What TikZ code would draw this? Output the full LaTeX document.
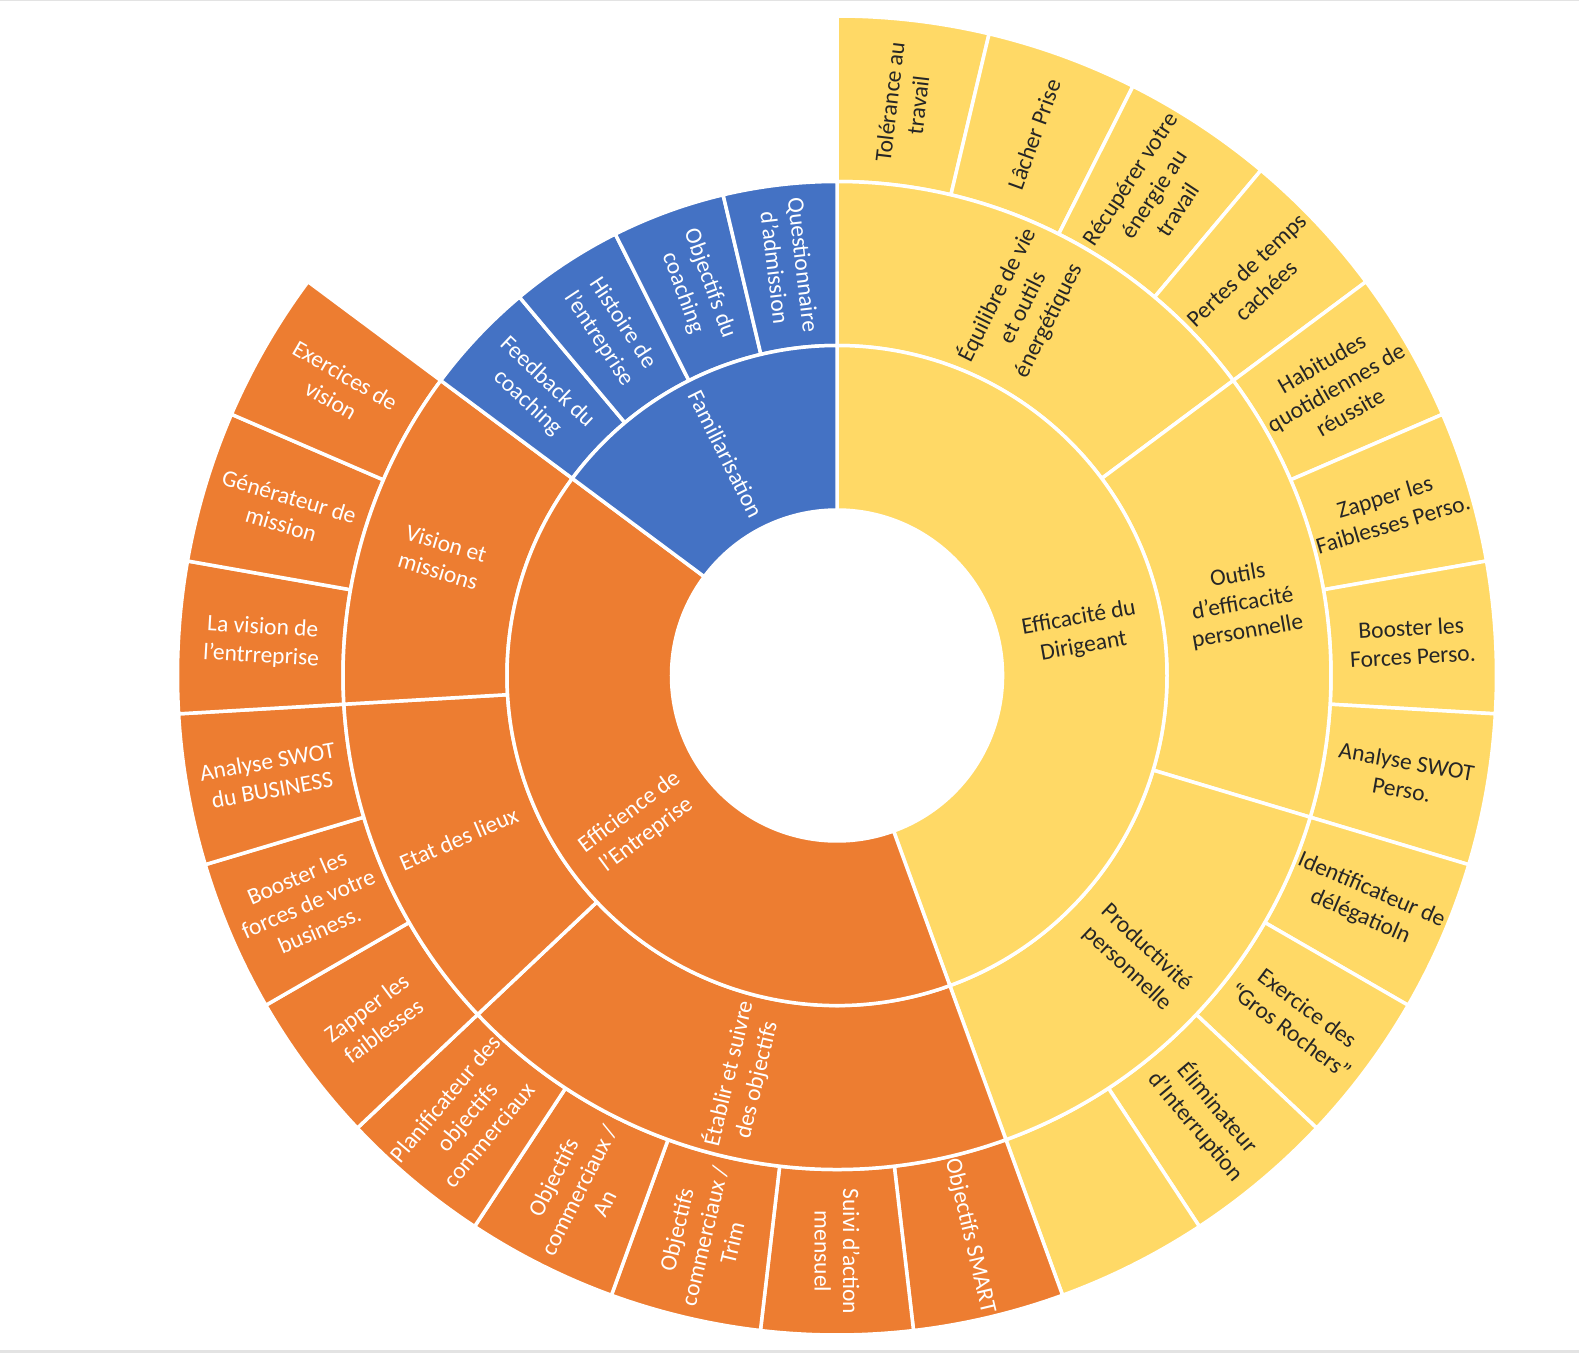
\documentclass[tikz,border=0pt]{standalone}
\usepackage{fontspec}
\setmainfont{Carlito}
\definecolor{sbY}{HTML}{FFD966}
\definecolor{sbO}{HTML}{ED7D31}
\definecolor{sbB}{HTML}{4472C4}
\definecolor{sbT}{HTML}{262626}
\newcommand\sunseg[5]{%
  \fill[#1, draw=white, line width=3.5pt, line join=round]
    (#4:#2) -- (#4:#3) arc[start angle=#4, end angle=#5, radius=#3]
    -- (#5:#2) arc[start angle=#5, end angle=#4, radius=#2] -- cycle;}
\tikzset{
  lbl/.style={align=center, font=\fontsize{23.5}{28.5}\selectfont, inner sep=0pt},
  lY/.style={lbl, text=sbT},
  lW/.style={lbl, text=white}
}
\begin{document}
\begin{tikzpicture}[x=1pt,y=1pt]
\useasboundingbox (-837,-677.5) rectangle (742,675.5);
\fill[white] (-837,-677.5) rectangle (742,675.5);
\fill[gray!22] (-837,674.5) rectangle (742,675.5);
\fill[gray!22] (-837,-677.5) rectangle (742,-674.5);
% ring 3 leaves
\foreach \k in {0,...,11}{
  \pgfmathsetmacro\aa{90-\k*40/3}\pgfmathsetmacro\ab{90-(\k+1)*40/3}
  \sunseg{sbY}{494}{659.5}{\aa}{\ab}}
\foreach \k in {12,...,22}{
  \pgfmathsetmacro\aa{90-\k*40/3}\pgfmathsetmacro\ab{90-(\k+1)*40/3}
  \sunseg{sbO}{494}{659.5}{\aa}{\ab}}
% ring 2
\sunseg{sbY}{330}{494}{90}{36.6667}
\sunseg{sbY}{330}{494}{36.6667}{-16.6667}
\sunseg{sbY}{330}{494}{-16.6667}{-70}
\sunseg{sbO}{330}{494}{-70}{-136.6667}
\sunseg{sbO}{330}{494}{-136.6667}{-176.6667}
\sunseg{sbO}{330}{494}{-176.6667}{-216.6667}
\foreach \k in {23,...,26}{
  \pgfmathsetmacro\aa{90-\k*40/3}\pgfmathsetmacro\ab{90-(\k+1)*40/3}
  \sunseg{sbB}{330}{494}{\aa}{\ab}}
% ring 1
\sunseg{sbY}{165.5}{330}{90}{-70}
\sunseg{sbO}{165.5}{330}{-70}{-216.6667}
\sunseg{sbB}{165.5}{330}{-216.6667}{-270}
% ring 1 labels
\node[lY, rotate=10] (effdir) at (10:248) {Efficacité du\\Dirigeant};
\node[lW, rotate=36.6667] (effent) at (-143.3333:248) {Efficience de\\l'Entreprise};
\node[lW, rotate=-63.3333] (fam) at (116.6667:248) {Familiarisation};
% ring 2 labels
\node[lY, rotate=63.3333] (equil) at (63.3333:412) {Équilibre de vie\\et outils\\énergétiques};
\node[lY, rotate=10] (outils) at (10:412) {Outils\\d'efficacité\\personnelle};
\node[lY, rotate=-43.3333] (prod) at (-43.3333:412) {Productivité\\personnelle};
\node[lW, rotate=76.6667] (etablir) at (-103.3333:412) {Établir et suivre\\des objectifs};
\node[lW, rotate=23.3333] (etat) at (-156.6667:412) {Etat des lieux};
\node[lW, rotate=-16.6667] (vismis) at (-196.6667:412) {Vision et\\missions};
\node[lW, rotate=-43.3333] (feed) at (-223.3333:412) {Feedback du\\coaching};
\node[lW, rotate=-56.6667] (hist) at (-236.6667:412) {Histoire de\\l'entreprise};
\node[lW, rotate=-70] (objcoach) at (-250:412) {Objectifs du\\coaching};
\node[lW, rotate=-83.3333] (quest) at (-263.3333:412) {Questionnaire\\d'admission};
% ring 3 labels yellow
\node[lY, rotate=83.3333] (tol) at (83.3333:576) {Tolérance au\\travail};
\node[lY, rotate=70] (lacher) at (70:576) {Lâcher Prise};
\node[lY, rotate=56.6667] (recup) at (56.6667:576) {Récupérer votre\\énergie au\\travail};
\node[lY, rotate=43.3333] (pertes) at (43.3333:576) {Pertes de temps\\cachées};
\node[lY, rotate=30] (habit) at (30:576) {Habitudes\\quotidiennes de\\réussite};
\node[lY, rotate=16.6667] (zapperp) at (16.6667:576) {Zapper les\\Faiblesses Perso.};
\node[lY, rotate=3.3333] (boostp) at (3.3333:576) {Booster les\\Forces Perso.};
\node[lY, rotate=-10] (swotp) at (-10:576) {Analyse SWOT\\Perso.};
\node[lY, rotate=-23.3333] (ident) at (-23.3333:576) {Identificateur de\\délégatioln};
\node[lY, rotate=-36.6667] (rochers) at (-36.6667:576) {Exercice des\\“Gros Rochers”};
\node[lY, rotate=-50] (elim) at (-50:576) {Éliminateur\\d’Interruption};
% ring 3 labels orange
\node[lW, rotate=-76.6667] (smart) at (-76.6667:576) {Objectifs SMART};
\node[lW, rotate=-90] (suivi) at (-90:576) {Suivi d'action\\mensuel};
\node[lW, rotate=76.6667] (trim) at (-103.3333:576) {Objectifs\\commerciaux /\\Trim};
\node[lW, rotate=63.3333] (an) at (-116.6667:576) {Objectifs\\commerciaux /\\An};
\node[lW, rotate=50] (planif) at (-130:576) {Planificateur des\\objectifs\\commerciaux};
\node[lW, rotate=36.6667] (zapperb) at (-143.3333:576) {Zapper les\\faiblesses};
\node[lW, rotate=23.3333] (boostb) at (-156.6667:576) {Booster les\\forces de votre\\business.};
\node[lW, rotate=10] (swotb) at (-170:576) {Analyse SWOT\\du BUSINESS};
\node[lW, rotate=-3.3333] (lavision) at (-183.3333:576) {La vision de\\l'entrreprise};
\node[lW, rotate=-16.6667] (genmis) at (-196.6667:576) {Générateur de\\mission};
\node[lW, rotate=-30] (exvis) at (-210:576) {Exercices de\\vision};
\end{tikzpicture}
\end{document}
